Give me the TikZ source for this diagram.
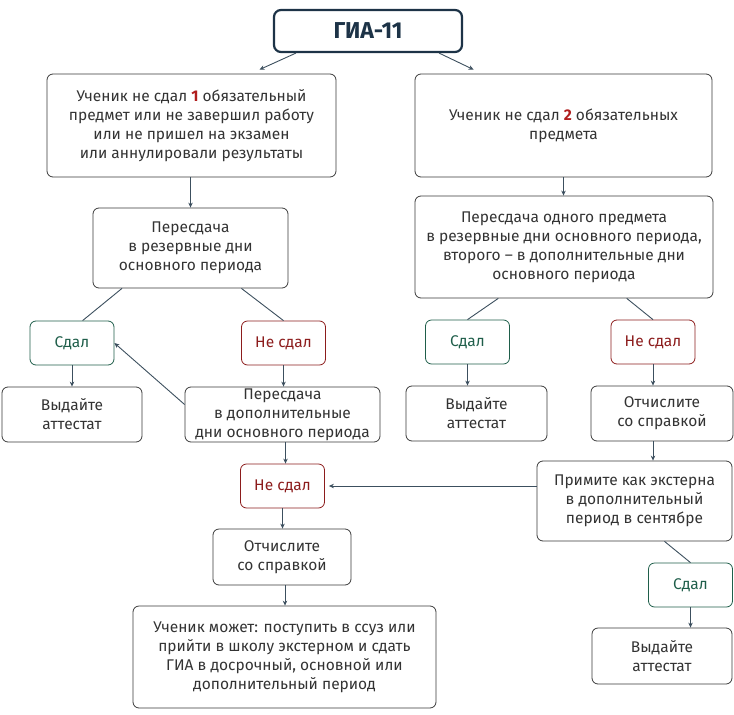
\documentclass[tikz,border=0pt]{standalone}
\usepackage{fontspec}
\setmainfont{Fira Sans}
\usetikzlibrary{arrows.meta,positioning,calc}
\definecolor{navy}{HTML}{1D3347}
\definecolor{wire}{HTML}{3C4F5E}
\definecolor{frame}{HTML}{3A3A3A}
\definecolor{ink}{HTML}{333333}
\definecolor{passgreen}{HTML}{1F5E4A}
\definecolor{failred}{HTML}{8C1C1C}
\definecolor{mark}{HTML}{B01E1E}
\newcommand{\num}[1]{\textbf{\textcolor{mark}{#1}}}

\begin{document}
\begin{tikzpicture}[x=1pt,y=-1pt]
            \tikzstyle{box}=[draw=frame, line width=0.8pt, rounded corners=6pt, align=center, inner sep=0pt, text=ink, font=\fontsize{15.5}{19}\selectfont]
            \tikzstyle{passbox}=[box, draw=passgreen, text=passgreen, minimum width=84pt, minimum height=44pt]
            \tikzstyle{failbox}=[box, draw=failred, text=failred, minimum width=84pt, minimum height=44pt]
            \tikzstyle{titlebox}=[draw=navy, line width=2.2pt, rounded corners=7pt, text=navy, font=\fontsize{23}{24}\selectfont\bfseries, minimum width=188pt, minimum height=42pt]
            \tikzstyle{every path}=[wire, line width=0.9pt]
            \tikzstyle{arr}=[-{Stealth[length=5pt,width=4.5pt]}]

            \useasboundingbox (0,0) rectangle (734,715);

            \node[titlebox] (gia) at (368,31) {ГИА-11};

            \node[box, minimum width=289pt, minimum height=103pt] (one) at (191.5,125.5) {Ученик не сдал \num{1} обязательный\\предмет или не завершил работу\\или не пришел на экзамен\\или аннулировали результаты};
            \node[box, minimum width=297pt, minimum height=103pt] (two) at (563.5,125.5) {Ученик не сдал \num{2} обязательных\\предмета};

            \node[box, minimum width=195pt, minimum height=80pt] (reserve) at (190.5,248) {Пересдача\\в резервные дни\\основного периода};
            \node[box, minimum width=298pt, minimum height=102pt] (split) at (564,247) {Пересдача одного предмета\\в резервные дни основного периода,\\второго – в дополнительные дни\\основного периода};

            \node[passbox] (passA) at (72,343) {Сдал};
            \node[failbox] (failA) at (283.5,343) {Не сдал};
            \node[passbox] (passB) at (467.5,342) {Сдал};
            \node[failbox] (failB) at (653,342) {Не сдал};

            \node[box, minimum width=140pt, minimum height=55pt] (certA) at (72,414.5) {Выдайте\\аттестат};
            \node[box, minimum width=195pt, minimum height=55pt] (extra) at (282.5,414.5) {Пересдача\\в дополнительные\\дни основного периода};
            \node[box, minimum width=141pt, minimum height=55pt] (certB) at (476.5,413.5) {Выдайте\\аттестат};
            \node[box, minimum width=142pt, minimum height=55pt] (expelB) at (662,413.5) {Отчислите\\со справкой};

            \node[failbox] (failC) at (282.5,486) {Не сдал};
            \node[box, minimum width=195pt, minimum height=80pt] (extern) at (634.5,501) {Примите как экстерна\\в дополнительный\\период в сентябре};
            \node[box, minimum width=138pt, minimum height=56pt] (expelC) at (282,557) {Отчислите\\со справкой};
            \node[passbox] (passC) at (690.5,585) {Сдал};
            \node[box, minimum width=303pt, minimum height=102pt] (pupil) at (284.5,657) {Ученик может: поступить в ссуз или\\прийти в школу экстерном и сдать\\ГИА в досрочный, основной или\\дополнительный период};
            \node[box, minimum width=140pt, minimum height=56pt] (certC) at (662,656) {Выдайте\\аттестат};

            % top split
            \draw[arr] ($(gia.south west)+(23,0)$) -- ($(one.north)+(68,-4)$);
            \draw[arr] ($(gia.south east)+(-24,0)$) -- ($(two.north west)+(59,-4)$);
            \draw[arr] (reserve.north |- one.south) -- (reserve.north);
            \draw[arr] (two.south) -- (two.north |- split.north);

            % branches
            \draw ($(reserve.south)!0.7!(reserve.south west)$) -- ($(passA.north)!0.25!(passA.north east)$);
            \draw ($(reserve.south)!0.52!(reserve.south east)$) -- (failA.north);
            \draw ($(split.south)!0.44!(split.south west)$) -- (passB.north);
            \draw ($(split.south)!0.42!(split.south east)$) -- (failB.north);

            \draw[arr] (passA.south) -- (certA.north);
            \draw[arr] (failA.south) -- (failA.south |- extra.north);
            \draw[arr] ($(extra.west)+(0,-10)$) -- (passA.east);
            \draw[arr] (passB.south) -- (passB.south |- certB.north);
            \draw[arr] (failB.south) -- (failB.south |- expelB.north);

            \draw[arr] ($(extra.south)+(3,0)$) -- ($(failC.north)+(3,0)$);
            \draw[arr] (failB.south |- expelB.south) -- (failB.south |- extern.north);
            \draw[arr] (extern.west |- failC.east) -- ($(failC.east)+(4,0)$);
            \draw ($(extern.south)+(30,0)$) -- (passC.north);
            \draw[arr] (passC.south) -- (passC.south |- certC.north);
            \draw[arr] (failC.south) -- (failC.south |- expelC.north);
            \draw[arr] ($(expelC.south)+(3,0)$) -- ($(expelC.south |- pupil.north)+(3,0)$);

        \end{tikzpicture}
\end{document}
